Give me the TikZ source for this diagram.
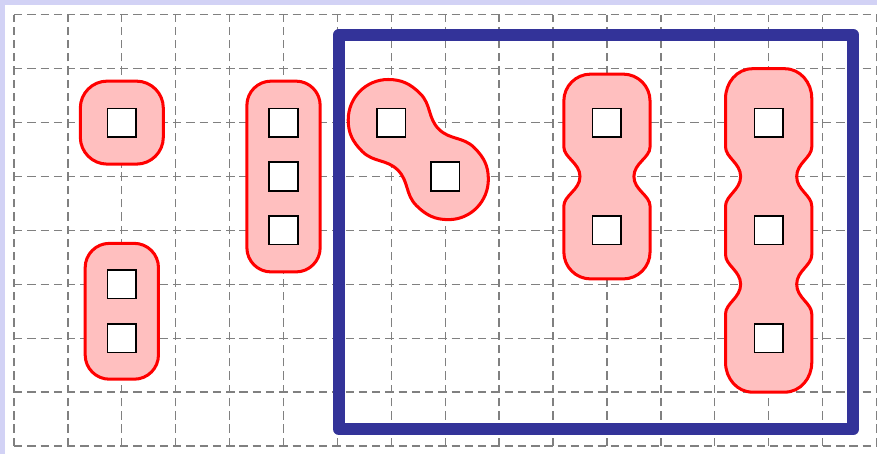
\documentclass[tikz,border=0pt]{standalone}
\usepackage{tikz}
\usepackage{xcolor}
\definecolor{lavender}{RGB}{210,210,245}
\definecolor{boxblue}{RGB}{51,51,153}

\begin{document}
\begin{tikzpicture}[
  cell/.style={rectangle,draw,fill=white,line width=0.8pt,minimum size=0.53cm,inner sep=0pt},
  blob/.style={draw=red,fill=red!25,line width=1.6pt}]
% background
\fill[lavender] (-0.26,-0.148) rectangle (16.01,8.275);
\fill[white] (-0.167,-0.148) rectangle (16.01,8.182);
\useasboundingbox (-0.26,-0.148) rectangle (16.01,8.275);
% grid
\draw[gray,line width=0.7pt,dash pattern=on 4.4pt off 2.6pt] (0,0) grid (16,8);
% frame
\draw[boxblue,line width=6.4pt,line join=round] (6.03,0.315) rectangle (15.57,7.63);

% blobs
\draw[blob,rounded corners=0.5cm] (1.23,5.23) rectangle (2.77,6.77);
\draw[blob,rounded corners=0.45cm] (1.32,1.24) rectangle (2.68,3.76);
\draw[blob,rounded corners=0.45cm] (4.32,3.23) rectangle (5.68,6.77);
\begin{scope}[shift={(7.5,5.5)}]
\draw[blob] (-1.30,0.55) to[out=90,in=180] (-0.56,1.30) to[out=0,in=135] (0.037,1.037)
  to[out=-45,in=135] (0.38,0.38) to[out=-45,in=135] (1.037,0.037) to[out=-45,in=90] (1.30,-0.55)
  to[out=-90,in=0] (0.56,-1.30) to[out=180,in=-45] (-0.037,-1.037) to[out=135,in=-45] (-0.38,-0.38)
  to[out=135,in=-45] (-1.037,-0.037) to[out=135,in=-90] cycle;
\end{scope}
\draw[blob] (10.7,6.9) -- (11.3,6.9) to[out=0,in=90] (11.8,6.4) -- (11.8,5.55)
  .. controls (11.8,5.35) and (11.5,5.25) .. (11.5,5) .. controls (11.5,4.75) and (11.8,4.65) .. (11.8,4.45)
  -- (11.8,3.6) to[out=-90,in=0] (11.3,3.1) -- (10.7,3.1) to[out=180,in=-90] (10.2,3.6) -- (10.2,4.45)
  .. controls (10.2,4.65) and (10.5,4.75) .. (10.5,5) .. controls (10.5,5.25) and (10.2,5.35) .. (10.2,5.55)
  -- (10.2,6.4) to[out=90,in=180] cycle;
\draw[blob] (13.7,7.0) -- (14.3,7.0) to[out=0,in=90] (14.8,6.45) -- (14.8,5.55)
  .. controls (14.8,5.35) and (14.52,5.25) .. (14.52,5) .. controls (14.52,4.75) and (14.8,4.65) .. (14.8,4.45)
  -- (14.8,3.55)
  .. controls (14.8,3.35) and (14.52,3.25) .. (14.52,3) .. controls (14.52,2.75) and (14.8,2.65) .. (14.8,2.45)
  -- (14.8,1.55) to[out=-90,in=0] (14.3,1.0) -- (13.7,1.0) to[out=180,in=-90] (13.2,1.55) -- (13.2,2.45)
  .. controls (13.2,2.65) and (13.48,2.75) .. (13.48,3) .. controls (13.48,3.25) and (13.2,3.35) .. (13.2,3.55)
  -- (13.2,4.45)
  .. controls (13.2,4.65) and (13.48,4.75) .. (13.48,5) .. controls (13.48,5.25) and (13.2,5.35) .. (13.2,5.55)
  -- (13.2,6.45) to[out=90,in=180] cycle;

% cells
\node[cell] (s1) at (2,6) {};
\node[cell] (p1) at (2,3) {};
\node[cell] (p2) at (2,2) {};
\node[cell] (t1) at (5,6) {};
\node[cell] (t2) at (5,5) {};
\node[cell] (t3) at (5,4) {};
\node[cell] (d1) at (7,6) {};
\node[cell] (d2) at (8,5) {};
\node[cell] (v1) at (11,6) {};
\node[cell] (v2) at (11,4) {};
\node[cell] (w1) at (14,6) {};
\node[cell] (w2) at (14,4) {};
\node[cell] (w3) at (14,2) {};
\end{tikzpicture}
\end{document}
